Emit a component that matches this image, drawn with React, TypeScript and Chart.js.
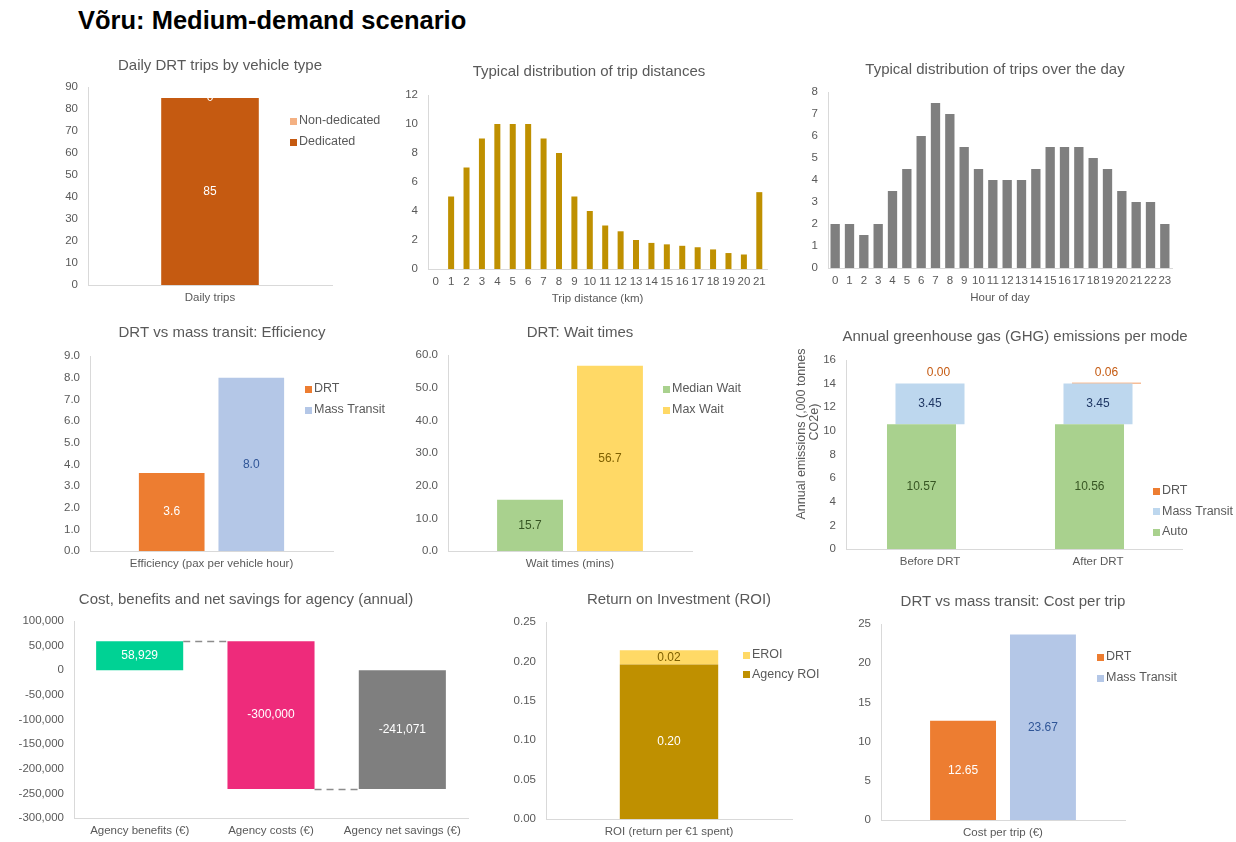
import React, { useEffect, useRef } from "react";
import { Chart, registerables } from "chart.js";

Chart.register(...registerables);

const W = 1236;
const H = 842;
const FONT = "'Liberation Sans', Arial, Helvetica, sans-serif";
const TEXT = "#595959";
const AXIS = "#D9D9D9";

// ---------------- DATA ----------------
const pageTitle = "Võru: Medium-demand scenario";

const tripsCategories = ["Daily trips"];
const tripsDedicated = [85];
const tripsNonDedicated = [0];

const distanceLabels = ["0", "1", "2", "3", "4", "5", "6", "7", "8", "9", "10", "11", "12", "13", "14", "15", "16", "17", "18", "19", "20", "21"];
const distanceValues = [0, 5, 7, 9, 10, 10, 10, 9, 8, 5, 4, 3, 2.6, 2.0, 1.8, 1.7, 1.6, 1.5, 1.35, 1.1, 1.0, 5.3];

const hourLabels = ["0", "1", "2", "3", "4", "5", "6", "7", "8", "9", "10", "11", "12", "13", "14", "15", "16", "17", "18", "19", "20", "21", "22", "23"];
const hourValues = [2, 2, 1.5, 2, 3.5, 4.5, 6, 7.5, 7, 5.5, 4.5, 4, 4, 4, 4.5, 5.5, 5.5, 5.5, 5, 4.5, 3.5, 3, 3, 2];

const efficiencyCategories = ["Efficiency (pax per vehicle hour)"];
const efficiencyDRT = [3.6];
const efficiencyMass = [8.0];

const waitCategories = ["Wait times (mins)"];
const waitMedian = [15.7];
const waitMax = [56.7];

const ghgCategories = ["Before DRT", "After DRT"];
const ghgAuto = [10.57, 10.56];
const ghgMass = [3.45, 3.45];
const ghgDRT = [0.0, 0.06];

const agencyCategories = ["Agency benefits (€)", "Agency costs (€)", "Agency net savings (€)"];
const agencyValues = [58929, -300000, -241071];

const roiCategories = ["ROI (return per €1 spent)"];
const roiAgency = [0.196];
const roiEROI = [0.018];

const costCategories = ["Cost per trip (€)"];
const costDRT = [12.65];
const costMass = [23.67];

// ---------------- HELPERS ----------------
const fx = (d: number) => (v: number) => v.toFixed(d);
const fThousands = (v: number) => Math.round(v).toLocaleString("en-US");

type Box = { l: number; t: number; r: number; b: number };

function baseOptions(o: {
  plot: Box;
  min: number;
  max: number;
  step: number;
  tick: (v: number) => string;
  xTitle?: string;
  stackX?: boolean;
  stackY?: boolean;
}): any {
  const YW = 60;
  const XH = 40;
  return {
    responsive: false,
    animation: false,
    events: [],
    layout: {
      padding: { left: o.plot.l - YW, top: o.plot.t, right: W - o.plot.r, bottom: H - o.plot.b - XH },
    },
    plugins: { legend: { display: false }, tooltip: { enabled: false }, title: { display: false } },
    scales: {
      x: {
        stacked: !!o.stackX,
        grid: { display: false, drawTicks: false },
        border: { display: true, color: AXIS, width: 1 },
        ticks: { color: TEXT, font: { family: FONT, size: 11.5 }, padding: 6, autoSkip: false, maxRotation: 0, minRotation: 0 },
        title: o.xTitle
          ? { display: true, text: o.xTitle, color: TEXT, font: { family: FONT, size: 11.5 }, padding: { top: 0, bottom: 3 } }
          : { display: false },
        afterFit: (s: any) => {
          s.height = XH;
        },
      },
      y: {
        stacked: !!o.stackY,
        min: o.min,
        max: o.max,
        grid: { display: false, drawTicks: false },
        border: { display: true, color: AXIS, width: 1 },
        ticks: {
          stepSize: o.step,
          color: TEXT,
          font: { family: FONT, size: 11.5 },
          padding: 10,
          callback: (v: any) => o.tick(Number(v)),
        },
        afterFit: (s: any) => {
          s.width = YW;
        },
      },
    },
  };
}

interface DecorSpec {
  title: { text: string; x: number; y: number };
  legend?: { x: number; y: number; dy: number; reverse?: boolean };
  yTitle?: { text: string; x: number; y: number }[];
  connectors?: number[][];
}

function decor(spec: DecorSpec): any {
  return {
    id: "decor",
    afterDatasetsDraw(chart: any) {
      const ctx = chart.ctx;
      ctx.save();
      // waterfall connectors
      if (spec.connectors) {
        const meta = chart.getDatasetMeta(0);
        const ys = chart.scales.y;
        ctx.strokeStyle = "#8C8C8C";
        ctx.lineWidth = 1.5;
        ctx.setLineDash([7, 5]);
        for (let i = 0; i < meta.data.length - 1; i++) {
          const a = meta.data[i].getProps(["x", "width"], true);
          const b = meta.data[i + 1].getProps(["x", "width"], true);
          const yy = Math.round(ys.getPixelForValue(spec.connectors[i][1])) + 0.5;
          ctx.beginPath();
          ctx.moveTo(a.x + a.width / 2, yy);
          ctx.lineTo(b.x - b.width / 2, yy);
          ctx.stroke();
        }
        ctx.setLineDash([]);
      }
      // data labels
      chart.data.datasets.forEach((d: any, di: number) => {
        if (!d.lblTexts) return;
        const meta = chart.getDatasetMeta(di);
        ctx.font = `${d.lblSize || 12}px ${FONT}`;
        ctx.fillStyle = d.lblColor || "#fff";
        ctx.textAlign = "center";
        ctx.textBaseline = "middle";
        meta.data.forEach((el: any, i: number) => {
          const p = el.getProps(["x", "y", "base"], true);
          const ly = d.lblAbove ? Math.min(p.y, p.base) - d.lblAbove : (p.y + p.base) / 2;
          ctx.fillText(d.lblTexts[i], p.x, ly);
        });
      });
      ctx.restore();
    },
    afterDraw(chart: any) {
      const ctx = chart.ctx;
      ctx.save();
      ctx.font = `15px ${FONT}`;
      ctx.fillStyle = TEXT;
      ctx.textAlign = "center";
      ctx.textBaseline = "middle";
      ctx.fillText(spec.title.text, spec.title.x, spec.title.y);
      if (spec.legend) {
        const lg = spec.legend;
        let ds = chart.data.datasets.slice();
        if (lg.reverse) ds = ds.reverse();
        ctx.font = `12.5px ${FONT}`;
        ctx.textAlign = "left";
        ds.forEach((d: any, i: number) => {
          const yy = lg.y + i * lg.dy;
          ctx.fillStyle = d.backgroundColor;
          ctx.fillRect(lg.x, Math.round(yy - 3.5), 7, 7);
          ctx.fillStyle = TEXT;
          ctx.fillText(d.label, lg.x + 9, yy);
        });
      }
      if (spec.yTitle) {
        ctx.font = `12.5px ${FONT}`;
        ctx.textAlign = "center";
        ctx.fillStyle = TEXT;
        spec.yTitle.forEach((t) => {
          ctx.save();
          ctx.translate(t.x, t.y);
          ctx.rotate(-Math.PI / 2);
          ctx.fillText(t.text, 0, 0);
          ctx.restore();
        });
      }
      ctx.restore();
    },
  };
}

// ---------------- CHART FACTORIES ----------------
const makeTrips = () => ({
  type: "bar",
  data: {
    labels: tripsCategories,
    datasets: [
      { label: "Dedicated", data: tripsDedicated, backgroundColor: "#C55A11", categoryPercentage: 0.4, barPercentage: 1, lblTexts: tripsDedicated.map(String), lblColor: "#FFFFFF" },
      { label: "Non-dedicated", data: tripsNonDedicated, backgroundColor: "#F4B183", categoryPercentage: 0.4, barPercentage: 1, lblTexts: tripsNonDedicated.map(String), lblColor: "#FFFFFF" },
    ],
  },
  options: baseOptions({ plot: { l: 88, t: 87, r: 332, b: 285 }, min: 0, max: 90, step: 10, tick: fx(0), stackX: true, stackY: true }),
  plugins: [decor({ title: { text: "Daily DRT trips by vehicle type", x: 220, y: 66 }, legend: { x: 290, y: 121, dy: 21, reverse: true } })],
});

const makeDistance = () => ({
  type: "bar",
  data: {
    labels: distanceLabels,
    datasets: [{ label: "Trips", data: distanceValues, backgroundColor: "#BF9000", categoryPercentage: 0.39, barPercentage: 1 }],
  },
  options: baseOptions({ plot: { l: 428, t: 95, r: 767, b: 269 }, min: 0, max: 12, step: 2, tick: fx(0), xTitle: "Trip distance (km)" }),
  plugins: [decor({ title: { text: "Typical distribution of trip distances", x: 589, y: 72 } })],
});

const makeHours = () => ({
  type: "bar",
  data: {
    labels: hourLabels,
    datasets: [{ label: "Trips", data: hourValues, backgroundColor: "#7F7F7F", categoryPercentage: 0.65, barPercentage: 1 }],
  },
  options: baseOptions({ plot: { l: 828, t: 92, r: 1172, b: 268 }, min: 0, max: 8, step: 1, tick: fx(0), xTitle: "Hour of day" }),
  plugins: [decor({ title: { text: "Typical distribution of trips over the day", x: 995, y: 70 } })],
});

const makeEfficiency = () => ({
  type: "bar",
  data: {
    labels: efficiencyCategories,
    datasets: [
      { label: "DRT", data: efficiencyDRT, backgroundColor: "#ED7D31", categoryPercentage: 0.655, barPercentage: 0.825, lblTexts: efficiencyDRT.map(fx(1)), lblColor: "#FFFFFF" },
      { label: "Mass Transit", data: efficiencyMass, backgroundColor: "#B4C7E7", categoryPercentage: 0.655, barPercentage: 0.825, lblTexts: efficiencyMass.map(fx(1)), lblColor: "#2F5597" },
    ],
  },
  options: baseOptions({ plot: { l: 90, t: 356, r: 333, b: 551 }, min: 0, max: 9, step: 1, tick: fx(1) }),
  plugins: [decor({ title: { text: "DRT vs mass transit: Efficiency", x: 222, y: 333 }, legend: { x: 305, y: 389, dy: 21 } })],
});

const makeWait = () => ({
  type: "bar",
  data: {
    labels: waitCategories,
    datasets: [
      { label: "Median Wait", data: waitMedian, backgroundColor: "#A9D18E", categoryPercentage: 0.655, barPercentage: 0.825, lblTexts: waitMedian.map(fx(1)), lblColor: "#375623" },
      { label: "Max Wait", data: waitMax, backgroundColor: "#FFD966", categoryPercentage: 0.655, barPercentage: 0.825, lblTexts: waitMax.map(fx(1)), lblColor: "#7F6000" },
    ],
  },
  options: baseOptions({ plot: { l: 448, t: 355, r: 692, b: 551 }, min: 0, max: 60, step: 10, tick: fx(1) }),
  plugins: [decor({ title: { text: "DRT: Wait times", x: 580, y: 333 }, legend: { x: 663, y: 389, dy: 21 } })],
});

const makeGhg = () => ({
  type: "bar",
  data: {
    labels: ghgCategories,
    datasets: [
      { label: "Auto", data: ghgAuto, backgroundColor: "#A9D18E", categoryPercentage: 0.1518, barPercentage: 8.12, lblTexts: ghgAuto.map(fx(2)), lblColor: "#375623" },
      { label: "Mass Transit", data: ghgMass, backgroundColor: "#BDD7EE", categoryPercentage: 0.1518, barPercentage: 8.12, lblTexts: ghgMass.map(fx(2)), lblColor: "#203864" },
      { label: "DRT", data: ghgDRT, backgroundColor: "#ED7D31", categoryPercentage: 0.1518, barPercentage: 8.12, lblTexts: ghgDRT.map(fx(2)), lblColor: "#C55A11", lblAbove: 10.5 },
    ],
  },
  options: baseOptions({ plot: { l: 846, t: 360, r: 1182, b: 549 }, min: 0, max: 16, step: 2, tick: fx(0), stackX: false, stackY: true }),
  plugins: [
    decor({
      title: { text: "Annual greenhouse gas (GHG) emissions per mode", x: 1015, y: 337 },
      legend: { x: 1153, y: 491, dy: 20.5, reverse: true },
      yTitle: [
        { text: "Annual emissions (,000 tonnes", x: 802, y: 434 },
        { text: "CO2e)", x: 815, y: 422 },
      ],
    }),
  ],
});

const makeAgency = () => {
  let run = 0;
  const floating = agencyValues.map((v, i) => {
    if (i === agencyValues.length - 1) return [0, v];
    const seg = [run, run + v];
    run += v;
    return seg;
  });
  return {
    type: "bar",
    data: {
      labels: agencyCategories,
      datasets: [
        {
          label: "Agency",
          data: floating,
          backgroundColor: ["#00D294", "#EE2B7B", "#7F7F7F"],
          categoryPercentage: 0.663,
          barPercentage: 1,
          lblTexts: agencyValues.map(fThousands),
          lblColor: "#FFFFFF",
        },
      ],
    },
    options: baseOptions({ plot: { l: 74, t: 621, r: 468, b: 818 }, min: -300000, max: 100000, step: 50000, tick: fThousands }),
    plugins: [decor({ title: { text: "Cost, benefits and net savings for agency (annual)", x: 246, y: 600 }, connectors: floating })],
  };
};

const makeRoi = () => ({
  type: "bar",
  data: {
    labels: roiCategories,
    datasets: [
      { label: "Agency ROI", data: roiAgency, backgroundColor: "#BF9000", categoryPercentage: 0.4, barPercentage: 1, lblTexts: roiAgency.map(fx(2)), lblColor: "#FFFFFF" },
      { label: "EROI", data: roiEROI, backgroundColor: "#FFD966", categoryPercentage: 0.4, barPercentage: 1, lblTexts: roiEROI.map(fx(2)), lblColor: "#7F6000" },
    ],
  },
  options: baseOptions({ plot: { l: 546, t: 622, r: 792, b: 819 }, min: 0, max: 0.25, step: 0.05, tick: fx(2), stackX: true, stackY: true }),
  plugins: [decor({ title: { text: "Return on Investment (ROI)", x: 679, y: 600 }, legend: { x: 743, y: 655, dy: 19.5, reverse: true } })],
});

const makeCost = () => ({
  type: "bar",
  data: {
    labels: costCategories,
    datasets: [
      { label: "DRT", data: costDRT, backgroundColor: "#ED7D31", categoryPercentage: 0.655, barPercentage: 0.825, lblTexts: costDRT.map(fx(2)), lblColor: "#FFFFFF" },
      { label: "Mass Transit", data: costMass, backgroundColor: "#B4C7E7", categoryPercentage: 0.655, barPercentage: 0.825, lblTexts: costMass.map(fx(2)), lblColor: "#2F5597" },
    ],
  },
  options: baseOptions({ plot: { l: 881, t: 624, r: 1125, b: 820 }, min: 0, max: 25, step: 5, tick: fx(0) }),
  plugins: [decor({ title: { text: "DRT vs mass transit: Cost per trip", x: 1013, y: 602 }, legend: { x: 1097, y: 657, dy: 21 } })],
});

const factories = [makeTrips, makeDistance, makeHours, makeEfficiency, makeWait, makeGhg, makeAgency, makeRoi, makeCost];

function ChartCanvas({ make }: { make: () => any }) {
  const ref = useRef<HTMLCanvasElement>(null);
  useEffect(() => {
    if (!ref.current) return;
    const chart = new Chart(ref.current, make());
    return () => chart.destroy();
  }, [make]);
  return <canvas ref={ref} width={W} height={H} style={{ position: "absolute", left: 0, top: 0, width: W, height: H }} />;
}

export default function App() {
  return (
    <div style={{ position: "absolute", left: 0, top: 0, width: W, height: H, background: "#FFFFFF", overflow: "hidden" }}>
      <div
        style={{
          position: "absolute",
          left: 78,
          top: 5,
          font: `bold 25.5px ${FONT}`,
          lineHeight: "30px",
          color: "#000000",
          whiteSpace: "nowrap",
        }}
      >
        {pageTitle}
      </div>
      {factories.map((f, i) => (
        <ChartCanvas key={i} make={f} />
      ))}
    </div>
  );
}
